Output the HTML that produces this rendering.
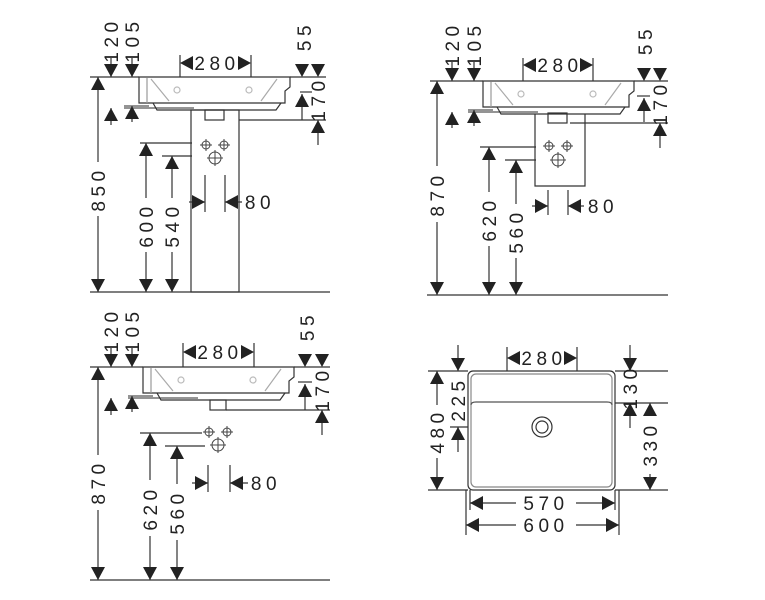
<!DOCTYPE html>
<html><head><meta charset="utf-8"><style>
html,body{margin:0;padding:0;background:#fff;}
svg{display:block;}
text{font-family:"Liberation Sans",sans-serif;font-size:19px;letter-spacing:4.5px;fill:#222;}
</style></head><body>
<svg width="765" height="600" viewBox="0 0 765 600" xmlns="http://www.w3.org/2000/svg">
<defs>
<polygon id="ad" points="-7,-13 7,-13 0,0" fill="#222"/>
<polygon id="au" points="-7,13 7,13 0,0" fill="#222"/>
<polygon id="al" points="13,-7 13,7 0,0" fill="#222"/>
<polygon id="ar" points="-13,-7 -13,7 0,0" fill="#222"/>
<g id="basin" fill="none" stroke="#333" stroke-width="1.2">
<path d="M0,0 H151 V10 L146,14 V26 H0 Z"/>
<line x1="8" y1="1" x2="8" y2="26" stroke="#999"/>
<path d="M12,2 L30,24 M138,2 L122,24" stroke="#aaa"/>
<path d="M-15,31 H55 M-15,29 H10" stroke="#555"/>
<path d="M14,26 L18,33 H137 L142,26" />
<circle cx="38" cy="13" r="3" stroke="#bbb"/><circle cx="110" cy="13" r="3" stroke="#bbb"/>
</g>
<g id="cross" fill="none" stroke="#444" stroke-width="1">
<circle r="4"/><path d="M-6,0 H6 M0,-6 V6"/>
</g>
<g id="crossb" fill="none" stroke="#444" stroke-width="1">
<circle r="6"/><path d="M-8,0 H8 M0,-8 V8"/>
</g>
</defs>
<g stroke="#333" stroke-width="1.2" fill="none">
<!-- Q1 -->
<use href="#basin" x="139" y="77"/>
<rect x="205" y="110" width="19" height="10"/>
<rect x="191" y="110" width="48" height="182"/>
<line x1="90" y1="292" x2="330" y2="292"/>
<line x1="90" y1="77" x2="139" y2="77"/>
<line x1="290" y1="77" x2="326" y2="77"/>
<line x1="98" y1="77" x2="98" y2="162"/><line x1="98" y1="216" x2="98" y2="292"/>
<line x1="111" y1="58" x2="111" y2="77"/><line x1="111" y1="108" x2="111" y2="125"/>
<line x1="132" y1="58" x2="132" y2="77"/><line x1="132" y1="106" x2="132" y2="122"/>
<line x1="180" y1="55" x2="180" y2="77"/><line x1="251" y1="55" x2="251" y2="77"/>
<line x1="300" y1="92" x2="312" y2="92"/>
<line x1="302" y1="94" x2="302" y2="120"/>
<line x1="239" y1="120" x2="326" y2="120"/>
<line x1="318" y1="120" x2="318" y2="145"/>
<line x1="140" y1="143" x2="192" y2="143"/><line x1="162" y1="156" x2="192" y2="156"/>
<line x1="146" y1="143" x2="146" y2="198"/><line x1="146" y1="252" x2="146" y2="292"/>
<line x1="172" y1="156" x2="172" y2="198"/><line x1="172" y1="252" x2="172" y2="292"/>
<line x1="205" y1="175" x2="205" y2="212"/><line x1="225" y1="175" x2="225" y2="212"/>
<line x1="189" y1="202" x2="205" y2="202"/><line x1="225" y1="202" x2="242" y2="202"/>
<!-- Q2 -->
<use href="#basin" x="483" y="81"/>
<rect x="548" y="113" width="19" height="10"/>
<path d="M535,114 V186 H585 V114"/>
<line x1="427" y1="295" x2="668" y2="295"/>
<line x1="430" y1="81" x2="483" y2="81"/>
<line x1="634" y1="81" x2="668" y2="81"/>
<line x1="437" y1="81" x2="437" y2="166"/><line x1="437" y1="222" x2="437" y2="295"/>
<line x1="452" y1="62" x2="452" y2="81"/><line x1="452" y1="112" x2="452" y2="128"/>
<line x1="474" y1="62" x2="474" y2="81"/><line x1="474" y1="110" x2="474" y2="126"/>
<line x1="523" y1="58" x2="523" y2="81"/><line x1="593" y1="58" x2="593" y2="81"/>
<line x1="637" y1="96" x2="650" y2="96"/>
<line x1="644" y1="98" x2="644" y2="122"/>
<line x1="570" y1="123" x2="668" y2="123"/>
<line x1="660" y1="123" x2="660" y2="148"/>
<line x1="480" y1="147" x2="536" y2="147"/><line x1="505" y1="160" x2="536" y2="160"/>
<line x1="489" y1="147" x2="489" y2="192"/><line x1="489" y1="246" x2="489" y2="295"/>
<line x1="516" y1="160" x2="516" y2="204"/><line x1="516" y1="258" x2="516" y2="295"/>
<line x1="548" y1="190" x2="548" y2="215"/><line x1="568" y1="190" x2="568" y2="215"/>
<line x1="532" y1="206" x2="548" y2="206"/><line x1="568" y1="206" x2="584" y2="206"/>
<!-- Q3 -->
<use href="#basin" x="143" y="367"/>
<rect x="210" y="400" width="16" height="10"/>
<line x1="90" y1="580" x2="330" y2="580"/>
<line x1="90" y1="367" x2="143" y2="367"/>
<line x1="294" y1="367" x2="330" y2="367"/>
<line x1="98" y1="367" x2="98" y2="455"/><line x1="98" y1="510" x2="98" y2="580"/>
<line x1="111" y1="348" x2="111" y2="367"/><line x1="111" y1="398" x2="111" y2="415"/>
<line x1="132" y1="348" x2="132" y2="367"/><line x1="132" y1="396" x2="132" y2="412"/>
<line x1="183" y1="343" x2="183" y2="367"/><line x1="254" y1="343" x2="254" y2="367"/>
<line x1="298" y1="382" x2="312" y2="382"/>
<line x1="305" y1="384" x2="305" y2="410"/>
<line x1="226" y1="410" x2="330" y2="410"/>
<line x1="322" y1="410" x2="322" y2="435"/>
<line x1="140" y1="433" x2="202" y2="433"/><line x1="165" y1="446" x2="205" y2="446"/>
<line x1="150" y1="433" x2="150" y2="480"/><line x1="150" y1="536" x2="150" y2="580"/>
<line x1="177" y1="446" x2="177" y2="484"/><line x1="177" y1="540" x2="177" y2="580"/>
<line x1="208" y1="465" x2="208" y2="492"/><line x1="230" y1="465" x2="230" y2="492"/>
<line x1="192" y1="483" x2="208" y2="483"/><line x1="230" y1="483" x2="248" y2="483"/>
<!-- Q4 -->
<rect x="468" y="371" width="147" height="119" rx="5"/>
<rect x="471" y="374" width="141" height="113" rx="5" stroke="#888"/>
<path d="M471,405 Q471,402 476,402 H607 Q612,402 612,405" stroke="#555"/>
<circle cx="542" cy="427" r="10"/><circle cx="542" cy="427" r="6"/>
<line x1="428" y1="371" x2="468" y2="371"/><line x1="615" y1="371" x2="668" y2="371"/>
<line x1="428" y1="490" x2="468" y2="490"/><line x1="615" y1="490" x2="668" y2="490"/>
<line x1="615" y1="403" x2="668" y2="403"/>
<line x1="450" y1="427" x2="468" y2="427"/>
<line x1="507" y1="347" x2="507" y2="371"/><line x1="577" y1="347" x2="577" y2="371"/>
<line x1="437" y1="371" x2="437" y2="405"/><line x1="437" y1="458" x2="437" y2="490"/>
<line x1="458" y1="345" x2="458" y2="371"/><line x1="458" y1="427" x2="458" y2="452"/>
<line x1="630" y1="345" x2="630" y2="371"/><line x1="630" y1="403" x2="630" y2="428"/>
<line x1="650" y1="403" x2="650" y2="414"/><line x1="650" y1="474" x2="650" y2="490"/>
<line x1="466" y1="490" x2="466" y2="535"/><line x1="619" y1="490" x2="619" y2="535"/>
<line x1="470" y1="490" x2="470" y2="510"/><line x1="615" y1="490" x2="615" y2="510"/>
<line x1="470" y1="503" x2="516" y2="503"/><line x1="576" y1="503" x2="615" y2="503"/>
<line x1="466" y1="525" x2="516" y2="525"/><line x1="576" y1="525" x2="619" y2="525"/>
</g>
<g fill="#222" stroke="none">
<use href="#cross" x="206" y="145"/><use href="#cross" x="224" y="145"/><use href="#crossb" x="215" y="158"/>
<use href="#cross" x="549" y="146"/><use href="#cross" x="567" y="146"/><use href="#crossb" x="558" y="160"/>
<use href="#cross" x="209" y="432"/><use href="#cross" x="227" y="432"/><use href="#crossb" x="218" y="445"/>
</g>
<g>
<use href="#au" x="98" y="77"/><use href="#ad" x="98" y="292"/>
<use href="#ad" x="111" y="77"/><use href="#au" x="111" y="108"/>
<use href="#ad" x="132" y="77"/><use href="#au" x="132" y="106"/>
<use href="#al" x="180" y="63"/><use href="#ar" x="251" y="63"/>
<use href="#ad" x="302" y="77"/><use href="#ad" x="318" y="77"/>
<use href="#au" x="302" y="94"/><use href="#au" x="318" y="120"/>
<use href="#au" x="146" y="143"/><use href="#ad" x="146" y="292"/>
<use href="#au" x="172" y="156"/><use href="#ad" x="172" y="292"/>
<use href="#ar" x="205" y="202"/><use href="#al" x="225" y="202"/>

<use href="#au" x="437" y="81"/><use href="#ad" x="437" y="295"/>
<use href="#ad" x="452" y="81"/><use href="#au" x="452" y="112"/>
<use href="#ad" x="474" y="81"/><use href="#au" x="474" y="110"/>
<use href="#al" x="523" y="65"/><use href="#ar" x="593" y="65"/>
<use href="#ad" x="644" y="81"/><use href="#ad" x="660" y="81"/>
<use href="#au" x="644" y="98"/><use href="#au" x="660" y="123"/>
<use href="#au" x="489" y="147"/><use href="#ad" x="489" y="295"/>
<use href="#au" x="516" y="160"/><use href="#ad" x="516" y="295"/>
<use href="#ar" x="548" y="206"/><use href="#al" x="568" y="206"/>

<use href="#au" x="98" y="367"/><use href="#ad" x="98" y="580"/>
<use href="#ad" x="111" y="367"/><use href="#au" x="111" y="398"/>
<use href="#ad" x="132" y="367"/><use href="#au" x="132" y="396"/>
<use href="#al" x="183" y="352"/><use href="#ar" x="254" y="352"/>
<use href="#ad" x="305" y="367"/><use href="#ad" x="322" y="367"/>
<use href="#au" x="305" y="384"/><use href="#au" x="322" y="410"/>
<use href="#au" x="150" y="433"/><use href="#ad" x="150" y="580"/>
<use href="#au" x="177" y="446"/><use href="#ad" x="177" y="580"/>
<use href="#ar" x="208" y="483"/><use href="#al" x="230" y="483"/>

<use href="#al" x="507" y="358"/><use href="#ar" x="577" y="358"/>
<use href="#au" x="437" y="371"/><use href="#ad" x="437" y="490"/>
<use href="#ad" x="458" y="371"/><use href="#au" x="458" y="427"/>
<use href="#ad" x="630" y="371"/><use href="#au" x="630" y="403"/>
<use href="#au" x="650" y="403"/><use href="#ad" x="650" y="490"/>
<use href="#al" x="470" y="503"/><use href="#ar" x="615" y="503"/>
<use href="#al" x="466" y="525"/><use href="#ar" x="619" y="525"/>
</g>
<g text-anchor="middle">
<text x="217" y="70">280</text>
<text x="260" y="209">80</text>
<text transform="translate(105,189) rotate(-90)">850</text>
<text transform="translate(118,40) rotate(-90)">120</text>
<text transform="translate(139,40) rotate(-90)">105</text>
<text transform="translate(311,36) rotate(-90)">55</text>
<text transform="translate(325,99) rotate(-90)">170</text>
<text transform="translate(153,225) rotate(-90)">600</text>
<text transform="translate(179,225) rotate(-90)">540</text>

<text x="560" y="72">280</text>
<text x="603" y="213">80</text>
<text transform="translate(444,194) rotate(-90)">870</text>
<text transform="translate(459,44) rotate(-90)">120</text>
<text transform="translate(481,44) rotate(-90)">105</text>
<text transform="translate(652,40) rotate(-90)">55</text>
<text transform="translate(667,103) rotate(-90)">170</text>
<text transform="translate(496,219) rotate(-90)">620</text>
<text transform="translate(523,231) rotate(-90)">560</text>

<text x="220" y="359">280</text>
<text x="266" y="490">80</text>
<text transform="translate(105,482) rotate(-90)">870</text>
<text transform="translate(118,330) rotate(-90)">120</text>
<text transform="translate(139,330) rotate(-90)">105</text>
<text transform="translate(314,326) rotate(-90)">55</text>
<text transform="translate(329,389) rotate(-90)">170</text>
<text transform="translate(157,508) rotate(-90)">620</text>
<text transform="translate(184,512) rotate(-90)">560</text>

<text x="544" y="365">280</text>
<text x="546" y="510">570</text>
<text x="546" y="532">600</text>
<text transform="translate(444,431) rotate(-90)">480</text>
<text transform="translate(465,399) rotate(-90)">225</text>
<text transform="translate(637,387) rotate(-90)">130</text>
<text transform="translate(657,444) rotate(-90)">330</text>
</g>
</svg>
</body></html>
